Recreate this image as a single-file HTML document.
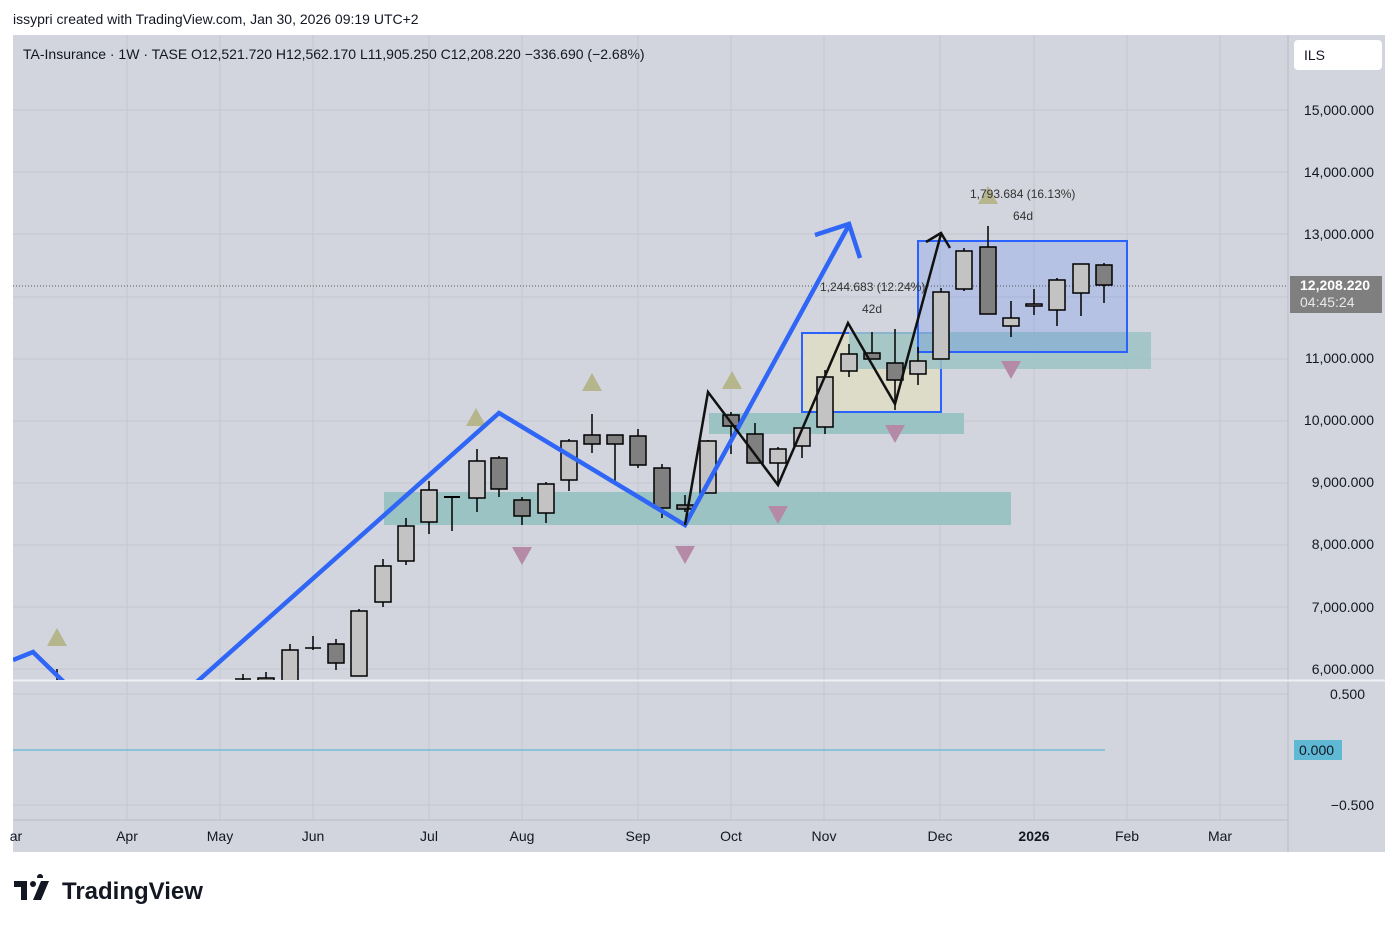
<!DOCTYPE html>
<html><head><meta charset="utf-8"><style>
body{margin:0;background:#fff;width:1398px;height:928px;overflow:hidden;font-family:"Liberation Sans",sans-serif}
</style></head><body>
<svg width="1398" height="928" xmlns="http://www.w3.org/2000/svg" font-family="Liberation Sans, sans-serif">
<text x="13" y="24" font-size="14" fill="#131722">issypri created with TradingView.com, Jan 30, 2026 09:19 UTC+2</text>
<rect x="13" y="35" width="1372" height="817" fill="#d2d5de"/>
<g stroke="#c4c7d0" stroke-width="1">
<line x1="127" y1="35" x2="127" y2="820"/><line x1="220" y1="35" x2="220" y2="820"/><line x1="313" y1="35" x2="313" y2="820"/><line x1="429" y1="35" x2="429" y2="820"/><line x1="522" y1="35" x2="522" y2="820"/><line x1="638" y1="35" x2="638" y2="820"/><line x1="731" y1="35" x2="731" y2="820"/><line x1="824" y1="35" x2="824" y2="820"/><line x1="940" y1="35" x2="940" y2="820"/><line x1="1034" y1="35" x2="1034" y2="820"/><line x1="1127" y1="35" x2="1127" y2="820"/><line x1="1220" y1="35" x2="1220" y2="820"/>
<line x1="13" y1="110" x2="1288" y2="110"/><line x1="13" y1="172" x2="1288" y2="172"/><line x1="13" y1="234" x2="1288" y2="234"/><line x1="13" y1="297" x2="1288" y2="297"/><line x1="13" y1="359" x2="1288" y2="359"/><line x1="13" y1="421" x2="1288" y2="421"/><line x1="13" y1="483" x2="1288" y2="483"/><line x1="13" y1="545" x2="1288" y2="545"/><line x1="13" y1="607" x2="1288" y2="607"/><line x1="13" y1="669" x2="1288" y2="669"/>
<line x1="13" y1="694" x2="1288" y2="694"/><line x1="13" y1="805" x2="1288" y2="805"/>
</g>
<line x1="1288" y1="35" x2="1288" y2="852" stroke="#b8bbc4"/>
<line x1="13" y1="820" x2="1288" y2="820" stroke="#b8bbc4"/>
<line x1="13" y1="680.5" x2="1385" y2="680.5" stroke="#eef0f4" stroke-width="2"/>
<defs><clipPath id="c"><rect x="13" y="35" width="1275" height="645"/></clipPath></defs>
<g clip-path="url(#c)">
<rect x="384" y="492" width="627" height="33" fill="#9cc3c4"/>
<rect x="709" y="413" width="255" height="21" fill="#9cc3c4"/>
<rect x="802" y="333" width="139" height="79" fill="#dcdcc8" stroke="#2962ff" stroke-width="2"/>
<rect x="849" y="332" width="302" height="37" fill="#9cc3c4" opacity="0.85"/>
<rect x="918" y="241" width="209" height="111" fill="#2962ff" fill-opacity="0.17" stroke="#2962ff" stroke-width="2"/>
<g fill="#b5b68c"><path d="M57 628l10 18h-20z"/><path d="M476 408l10 18h-20z"/><path d="M592 373l10 18h-20z"/><path d="M732 371l10 18h-20z"/><path d="M988 186l10 18h-20z"/></g>
<g fill="#b58aa6"><path d="M512 547h20l-10 18z"/><path d="M675 546h20l-10 18z"/><path d="M768 506h20l-10 18z"/><path d="M885 425h20l-10 18z"/><path d="M1001 361h20l-10 18z"/></g>
<line x1="13" y1="286" x2="1288" y2="286" stroke="#555" stroke-dasharray="1,2"/>
<g stroke="#000" stroke-width="1.5">
<line x1="57" y1="669" x2="57" y2="680"/>
<line x1="243" y1="674" x2="243" y2="680"/><line x1="235" y1="679" x2="251" y2="679"/>
<line x1="266" y1="672" x2="266" y2="680"/><rect x="258" y="678" width="16" height="4" fill="#808080"/>
<line x1="290" y1="644" x2="290" y2="680"/><rect x="282" y="650" width="16" height="32" fill="#c3c3c3"/>
<line x1="313" y1="636" x2="313" y2="650"/><line x1="305" y1="648" x2="321" y2="648"/>
<line x1="336" y1="639" x2="336" y2="670"/><rect x="328" y="644" width="16" height="19" fill="#808080"/>
<line x1="359" y1="609" x2="359" y2="676"/><rect x="351" y="611" width="16" height="65" fill="#c3c3c3"/>
<line x1="383" y1="559" x2="383" y2="607"/><rect x="375" y="566" width="16" height="36" fill="#c3c3c3"/>
<line x1="406" y1="518" x2="406" y2="565"/><rect x="398" y="526" width="16" height="35" fill="#c3c3c3"/>
<line x1="429" y1="481" x2="429" y2="534"/><rect x="421" y="490" width="16" height="32" fill="#c3c3c3"/>
<line x1="452" y1="497" x2="452" y2="531"/><line x1="444" y1="497" x2="460" y2="497" stroke-width="2"/>
<line x1="477" y1="449" x2="477" y2="512"/><rect x="469" y="461" width="16" height="37" fill="#c3c3c3"/>
<line x1="499" y1="456" x2="499" y2="497"/><rect x="491" y="458" width="16" height="31" fill="#808080"/>
<line x1="522" y1="497" x2="522" y2="525"/><rect x="514" y="500" width="16" height="16" fill="#808080"/>
<line x1="546" y1="482" x2="546" y2="523"/><rect x="538" y="484" width="16" height="29" fill="#c3c3c3"/>
<line x1="569" y1="439" x2="569" y2="491"/><rect x="561" y="441" width="16" height="39" fill="#c3c3c3"/>
<line x1="592" y1="414" x2="592" y2="453"/><rect x="584" y="435" width="16" height="9" fill="#808080"/>
<line x1="615" y1="435" x2="615" y2="483"/><rect x="607" y="435" width="16" height="9" fill="#808080"/>
<line x1="638" y1="429" x2="638" y2="468"/><rect x="630" y="436" width="16" height="29" fill="#808080"/>
<line x1="662" y1="464" x2="662" y2="518"/><rect x="654" y="468" width="16" height="40" fill="#808080"/>
<line x1="685" y1="495" x2="685" y2="512"/><rect x="677" y="505" width="16" height="4" fill="#808080"/>
<line x1="708" y1="440" x2="708" y2="493"/><rect x="700" y="441" width="16" height="52" fill="#c3c3c3"/>
<line x1="731" y1="412" x2="731" y2="454"/><rect x="723" y="415" width="16" height="11" fill="#808080"/>
<line x1="755" y1="423" x2="755" y2="463"/><rect x="747" y="434" width="16" height="29" fill="#808080"/>
<line x1="778" y1="447" x2="778" y2="485"/><rect x="770" y="449" width="16" height="14" fill="#c3c3c3"/>
<line x1="802" y1="428" x2="802" y2="458"/><rect x="794" y="428" width="16" height="18" fill="#c3c3c3"/>
<line x1="825" y1="370" x2="825" y2="434"/><rect x="817" y="377" width="16" height="50" fill="#c3c3c3"/>
<line x1="849" y1="344" x2="849" y2="377"/><rect x="841" y="354" width="16" height="17" fill="#c3c3c3"/>
<line x1="872" y1="332" x2="872" y2="359"/><rect x="864" y="353" width="16" height="6" fill="#808080"/>
<line x1="895" y1="329" x2="895" y2="410"/><rect x="887" y="363" width="16" height="17" fill="#808080"/>
<line x1="918" y1="347" x2="918" y2="385"/><rect x="910" y="361" width="16" height="13" fill="#c3c3c3"/>
<line x1="941" y1="288" x2="941" y2="359"/><rect x="933" y="292" width="16" height="67" fill="#c3c3c3"/>
<line x1="964" y1="248" x2="964" y2="291"/><rect x="956" y="251" width="16" height="38" fill="#c3c3c3"/>
<line x1="988" y1="226" x2="988" y2="314"/><rect x="980" y="247" width="16" height="67" fill="#808080"/>
<line x1="1011" y1="301" x2="1011" y2="337"/><rect x="1003" y="318" width="16" height="8" fill="#c3c3c3"/>
<line x1="1034" y1="289" x2="1034" y2="315"/><rect x="1026" y="304" width="16" height="2" fill="#c3c3c3"/>
<line x1="1057" y1="278" x2="1057" y2="326"/><rect x="1049" y="280" width="16" height="30" fill="#c3c3c3"/>
<line x1="1081" y1="264" x2="1081" y2="316"/><rect x="1073" y="264" width="16" height="29" fill="#c3c3c3"/>
<line x1="1104" y1="263" x2="1104" y2="303"/><rect x="1096" y="265" width="16" height="20" fill="#808080"/>
</g>
<g fill="none" stroke="#2f66f5" stroke-width="4.5" stroke-linejoin="miter">
<polyline points="13,660 33,652 70,688"/>
<polyline points="190,688 499,413 685,525 849,225"/>
<polyline points="815,235 849,224 860,258"/>
</g>
<g fill="none" stroke="#111" stroke-width="2.5">
<polyline points="685,525 708,392 778,485 848,323 895,404 941,234"/>
<polyline points="926,242 941,233 950,248"/>
</g>
<g font-size="12" fill="#333">
<text x="820" y="291">1,244.683 (12.24%)</text><text x="862" y="313">42d</text>
<text x="970" y="198">1,793.684 (16.13%)</text><text x="1013" y="220">64d</text>
</g>
</g>
<line x1="13" y1="750" x2="1105" y2="750" stroke="#5fb8d4" stroke-width="1.2"/>
<text x="23" y="59" font-size="14" fill="#131722">TA-Insurance · 1W · TASE  O12,521.720  H12,562.170  L11,905.250  C12,208.220  −336.690 (−2.68%)</text>
<rect x="1294" y="40" width="88" height="30" rx="4" fill="#fff"/>
<text x="1304" y="60" font-size="14" fill="#131722">ILS</text>
<g font-size="14" fill="#131722" text-anchor="end">
<text x="1374" y="115">15,000.000</text><text x="1374" y="177">14,000.000</text><text x="1374" y="239">13,000.000</text><text x="1374" y="363">11,000.000</text><text x="1374" y="425">10,000.000</text><text x="1374" y="487">9,000.000</text><text x="1374" y="549">8,000.000</text><text x="1374" y="612">7,000.000</text><text x="1374" y="674">6,000.000</text>
<text x="1365" y="699">0.500</text><text x="1374" y="810">−0.500</text>
</g>
<rect x="1290" y="276" width="92" height="37" fill="#7f7f7f"/>
<text x="1300" y="290" font-size="14" font-weight="bold" fill="#fff">12,208.220</text>
<text x="1300" y="307" font-size="14" fill="#e8e8e8">04:45:24</text>
<rect x="1294" y="740" width="48" height="20" fill="#5fb8d4"/>
<text x="1299" y="755" font-size="14" fill="#131722">0.000</text>
<g font-size="14" fill="#131722" text-anchor="middle">
<text x="16" y="841">ar</text><text x="127" y="841">Apr</text><text x="220" y="841">May</text><text x="313" y="841">Jun</text><text x="429" y="841">Jul</text><text x="522" y="841">Aug</text><text x="638" y="841">Sep</text><text x="731" y="841">Oct</text><text x="824" y="841">Nov</text><text x="940" y="841">Dec</text><text x="1034" y="841" font-weight="bold">2026</text><text x="1127" y="841">Feb</text><text x="1220" y="841">Mar</text>
</g>
<text x="16" y="900" font-size="24" font-weight="bold" fill="#131722">𝟭𝟳</text>
<path d="M14 880h14v20h-6v-14h-8z M30 880h8l-6 20h-7z M40 880a3 3 0 1 1 0.1 0z" fill="#131722"/>
<rect x="12" y="878" width="46" height="24" fill="#fff"/>
<path d="M14 881h13v19h-6v-13h-7z" fill="#131722"/><circle cx="33" cy="884" r="3" fill="#131722"/><path d="M41 881h8l-8 19h-8z" fill="#131722"/>
<text x="62" y="899" font-size="24" font-weight="bold" fill="#131722">TradingView</text>
</svg>
</body></html>
